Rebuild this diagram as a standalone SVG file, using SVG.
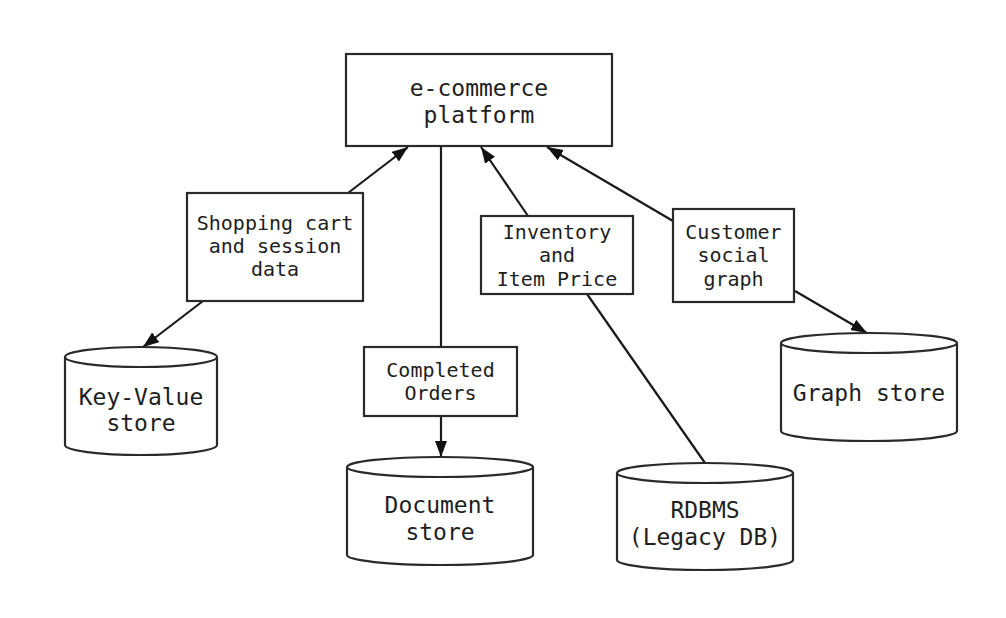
<svg xmlns="http://www.w3.org/2000/svg" width="1006" height="618" viewBox="0 0 1006 618">
<style>
.box{fill:#fff;stroke:#2a2a2a;stroke-width:2.2}
.cyl{fill:#fff;stroke:#2a2a2a;stroke-width:2.2}
.edge{fill:none;stroke:#1a1a1a;stroke-width:2.2}
.t{font-family:"DejaVu Sans Mono","Liberation Mono",monospace;fill:#1e1e1e;text-anchor:middle}
.lg{font-size:23px}
.sm{font-size:20px}
</style>
<defs>
<marker id="arr" markerUnits="userSpaceOnUse" markerWidth="18" markerHeight="14" refX="16" refY="6" orient="auto">
<path d="M0,0 L16,6 L0,12 Z" fill="#111"/>
</marker>
</defs>
<rect width="1006" height="618" fill="#fff"/>
<g id="connectors">
<line class="edge" x1="348" y1="193" x2="408" y2="147" marker-end="url(#arr)"/>
<line class="edge" x1="441" y1="146" x2="441" y2="347"/>
<line class="edge" x1="441" y1="416" x2="441" y2="457" marker-end="url(#arr)"/>
<line class="edge" x1="528" y1="216" x2="481" y2="147" marker-end="url(#arr)"/>
<line class="edge" x1="673" y1="221" x2="547" y2="147" marker-end="url(#arr)"/>
<line class="edge" x1="203" y1="301" x2="143" y2="347" marker-end="url(#arr)"/>
<line class="edge" x1="587" y1="294" x2="705" y2="463"/>
<line class="edge" x1="795" y1="291" x2="867" y2="333" marker-end="url(#arr)"/>
</g>
<g id="ecommerce">
<rect class="box" x="346" y="54" width="266" height="92"/>
<text class="t lg" x="479" y="96">e-commerce</text>
<text class="t lg" x="479" y="123">platform</text>
</g>
<g id="shopping">
<rect class="box" x="187" y="193" width="176" height="108"/>
<text class="t sm" x="275" y="230">Shopping cart</text>
<text class="t sm" x="275" y="253">and session</text>
<text class="t sm" x="275" y="276">data</text>
</g>
<g id="completed">
<rect class="box" x="364" y="347" width="153" height="69"/>
<text class="t sm" x="440.5" y="377">Completed</text>
<text class="t sm" x="440.5" y="400">Orders</text>
</g>
<g id="inventory">
<rect class="box" x="481" y="216" width="152" height="78"/>
<text class="t sm" x="557" y="239">Inventory</text>
<text class="t sm" x="557" y="262">and</text>
<text class="t sm" x="557" y="286">Item Price</text>
</g>
<g id="customer">
<rect class="box" x="673" y="209" width="121" height="93"/>
<text class="t sm" x="733.5" y="239">Customer</text>
<text class="t sm" x="733.5" y="262">social</text>
<text class="t sm" x="733.5" y="286">graph</text>
</g>
<g id="keyvalue">
<path class="cyl" d="M65,357 A76,10 0 0 1 217,357 L217,445 A76,10 0 0 1 65,445 Z"/>
<path class="cyl" d="M65,357 A76,10 0 0 0 217,357"/>
<text class="t lg" x="141" y="405">Key-Value</text>
<text class="t lg" x="141" y="431">store</text>
</g>
<g id="document">
<path class="cyl" d="M347,467 A93,10 0 0 1 533,467 L533,555 A93,10 0 0 1 347,555 Z"/>
<path class="cyl" d="M347,467 A93,10 0 0 0 533,467"/>
<text class="t lg" x="440" y="513">Document</text>
<text class="t lg" x="440" y="540">store</text>
</g>
<g id="rdbms">
<path class="cyl" d="M617,473 A88,10 0 0 1 793,473 L793,560 A88,10 0 0 1 617,560 Z"/>
<path class="cyl" d="M617,473 A88,10 0 0 0 793,473"/>
<text class="t lg" x="705" y="518">RDBMS</text>
<text class="t lg" x="705" y="545">(Legacy DB)</text>
</g>
<g id="graph">
<path class="cyl" d="M781,343 A88,10 0 0 1 957,343 L957,431 A88,10 0 0 1 781,431 Z"/>
<path class="cyl" d="M781,343 A88,10 0 0 0 957,343"/>
<text class="t lg" x="869" y="401">Graph store</text>
</g>
</svg>
